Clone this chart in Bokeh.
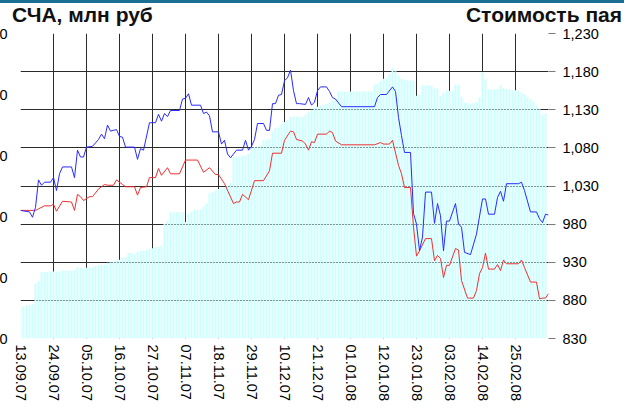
import numpy as np
from bokeh.plotting import figure
from bokeh.layouts import column
from bokeh.models import (Range1d, LinearAxis, FixedTicker, NumeralTickFormatter, Div)
from bokeh.embed import file_html
from bokeh.resources import INLINE

# ---------------- data ----------------
title_left = "СЧА, млн руб"
title_right = "Стоимость пая"

# x axis: days since 13.09.07
tick_days = [0, 11, 22, 33, 44, 55, 66, 77, 88, 99, 110, 121, 132, 143, 154, 165]
tick_labels = ["13.09.07", "24.09.07", "05.10.07", "16.10.07", "27.10.07", "07.11.07",
               "18.11.07", "29.11.07", "10.12.07", "21.12.07", "01.01.08", "12.01.08",
               "23.01.08", "03.02.08", "14.02.08", "25.02.08"]

# СЧА (bars), one value per day from 13.09.07
scha = [51, 52, 54, 55, 56, 90, 94, 108, 109, 109, 110, 110, 110, 110,
        111, 111, 111, 111, 112, 116, 116, 115, 116, 117, 117, 119, 120, 121, 121,
        124, 125, 126, 128, 129, 133, 133, 140, 140, 138, 142, 144, 144, 145,
        147, 148, 150, 150, 152, 188, 193, 207, 207, 207, 207, 207, 191, 205, 208,
        211, 211, 211, 216, 221, 238, 240, 243, 245, 247, 248, 252, 255,
        297, 298, 298, 299, 300, 303, 313, 314, 315, 316, 325, 326, 327, 340,
        345, 346, 352, 355, 358, 363, 364, 364, 363, 363, 367, 371, 375, 379,
        380, 382, 383, 384, 387, 390, 393,
        405, 405, 405, 405, 405, 405, 405, 405, 405, 405, 405, 405,
        416, 418, 422, 426, 427, 434, 444, 438, 430, 426, 424, 423, 423, 422,
        398, 400, 415, 415, 415, 414, 410, 410, 398, 402, 406, 406, 406, 416, 416,
        396, 387, 386, 385, 386, 388, 395, 437, 425, 408, 408, 408, 409, 415,
        410, 409, 408, 407, 407, 406, 403, 400, 396, 392, 388, 381, 376, 366, 368]

# Стоимость пая (blue line)
blue_day = [0, 3, 4, 5, 6, 7, 8, 10, 11, 12, 13, 14, 17, 18, 19, 20, 21, 22, 24, 26,
            27, 28, 29, 30, 32, 33, 34, 35, 38, 39, 40, 41, 43, 45, 46, 47, 48, 49, 50, 53,
            54, 55, 56, 57, 60, 61, 62, 63, 64, 66, 67, 68, 69, 70, 72, 74, 75, 76, 77, 78,
            79, 81, 82, 83, 84, 85, 86, 87, 88, 89, 90, 91, 92, 93, 95, 96, 97, 98, 99, 100,
            102, 103, 104, 105, 107, 118, 119, 120, 122, 124, 125, 126, 127, 128, 130, 131,
            132, 133, 134, 135, 137, 138, 139, 140, 141, 142, 143, 145, 146, 147, 148, 150,
            152, 154, 155, 156, 158, 159, 160, 161, 162, 166, 167, 168, 170, 172, 173, 174,
            175, 176]
blue_val = [998, 996, 989, 1002, 1038, 1031, 1035, 1035, 1041, 1024, 1046, 1055, 1055, 1041,
            1077, 1068, 1068, 1081, 1082, 1091, 1098, 1092, 1110, 1102, 1104, 1095, 1094, 1081,
            1081, 1065, 1079, 1077, 1113, 1113, 1124, 1115, 1125, 1121, 1129, 1129, 1144, 1145,
            1151, 1136, 1136, 1125, 1127, 1122, 1101, 1101, 1085, 1090, 1072, 1067, 1077, 1077,
            1090, 1077, 1082, 1091, 1112, 1112, 1103, 1103, 1138, 1138, 1149, 1150, 1168, 1172,
            1182, 1155, 1138, 1138, 1137, 1146, 1136, 1140, 1155, 1160, 1160, 1154, 1146, 1144,
            1134, 1134, 1146, 1150, 1150, 1160, 1154, 1120, 1096, 1074, 1074, 994, 980, 945, 963,
            1022, 1022, 981, 1007, 991, 945, 984, 984, 1007, 980, 976, 943, 940, 967, 1013, 1013,
            993, 993, 1015, 1023, 1010, 1033, 1033, 1035, 1024, 996, 996, 987, 982, 993, 992]

# benchmark (red line)
red_day = [0, 5, 6, 8, 10, 11, 12, 14, 17, 18, 19, 20, 21, 23, 24, 26, 28, 29, 31, 32,
           34, 35, 38, 39, 40, 42, 43, 45, 46, 47, 49, 50, 53, 55, 59, 61, 63, 65, 66, 68,
           71, 72, 73, 74, 76, 78, 81, 83, 84, 87, 88, 90, 91, 92, 94, 95, 96, 97, 98, 99,
           102, 103, 104, 105, 107, 118, 120, 121, 123, 124, 126, 127, 128, 130, 131, 132,
           133, 135, 137, 138, 139, 140, 141, 142, 143, 145, 146, 147, 149, 151, 152, 153,
           154, 155, 156, 158, 159, 160, 161, 162, 166, 167, 168, 170, 172, 173, 174, 175, 176]
red_val = [998, 998, 1000, 1004, 1004, 1006, 997, 1010, 1009, 998, 1019, 1016, 1011, 1016,
           1016, 1026, 1032, 1031, 1031, 1038, 1032, 1029, 1029, 1018, 1028, 1029, 1041, 1041,
           1053, 1044, 1054, 1046, 1046, 1064, 1064, 1048, 1054, 1045, 1045, 1033, 1007, 1009,
           1009, 1019, 1012, 1037, 1037, 1050, 1073, 1073, 1090, 1102, 1101, 1091, 1089, 1085,
           1077, 1088, 1087, 1098, 1098, 1102, 1100, 1089, 1084, 1084, 1087, 1085, 1085, 1090,
           1057, 1046, 1028, 1028, 976, 938, 945, 961, 961, 932, 939, 935, 910, 926, 926, 948,
           946, 906, 883, 883, 893, 915, 923, 942, 921, 921, 927, 919, 933, 928, 928, 933, 923,
           904, 904, 882, 883, 883, 889]

right_ticks = [830, 880, 930, 980, 1030, 1080, 1130, 1180, 1230]
left_ticks = [0, 100, 200, 300, 400, 500]

# ---------------- figure ----------------
FONT = "Liberation Sans"
FW, FH = 528, 305
TOTAL_W = 654

p = figure(frame_width=FW, frame_height=FH,
           x_range=Range1d(0, 176), y_range=Range1d(830, 1230),
           y_axis_location="right", title=None,
           output_backend="svg", toolbar_location=None,
           min_border_left=50, min_border_right=76, min_border_top=7, min_border_bottom=67)
p.extra_y_ranges = {"scha": Range1d(0, 500)}
p.outline_line_color = None
p.background_fill_color = "white"
p.border_fill_color = "white"

# right axis (share value)
ra = p.yaxis[0]
ra.ticker = FixedTicker(ticks=right_ticks)
ra.formatter = NumeralTickFormatter(format="0,0")
ra.axis_line_color = None
ra.major_tick_in = 0
ra.major_tick_out = 7
ra.major_tick_line_color = "#7a7a7a"
ra.minor_tick_line_color = None
ra.major_label_standoff = 7
ra.major_label_text_font = FONT
ra.major_label_text_font_size = "14.5px"
ra.major_label_text_color = "black"

# left axis (СЧА)
la = LinearAxis(y_range_name="scha", ticker=FixedTicker(ticks=left_ticks))
la.axis_line_color = None
la.major_tick_line_color = None
la.minor_tick_line_color = None
la.major_tick_out = 0
la.major_tick_in = 0
la.major_label_standoff = 13
la.major_label_text_font = FONT
la.major_label_text_font_size = "14.5px"
la.major_label_text_color = "black"
p.add_layout(la, "left")

# x axis
xa = p.xaxis[0]
xa.ticker = FixedTicker(ticks=tick_days)
xa.major_label_overrides = {d: l for d, l in zip(tick_days, tick_labels)}
xa.major_label_orientation = "vertical"
xa.axis_line_color = None
xa.major_tick_line_color = None
xa.minor_tick_line_color = None
xa.major_tick_out = 0
xa.major_tick_in = 0
xa.major_label_standoff = 6
xa.major_label_text_font = FONT
xa.major_label_text_font_size = "14.5px"
xa.major_label_text_color = "black"

# grids
p.xgrid.ticker = FixedTicker(ticks=tick_days)
p.xgrid.grid_line_color = "#2b2b2b"
p.ygrid.grid_line_color = "#2b2b2b"
p.xgrid.grid_line_width = 1
p.ygrid.grid_line_width = 1

# bars
bar_day = np.arange(len(scha))
p.vbar(x=bar_day, top=scha, bottom=0, width=2 / 3, y_range_name="scha",
       fill_color="#ccffff", line_color=None)

# lines
p.line(red_day, red_val, line_color="#ee3030", line_width=1)
p.line(blue_day, blue_val, line_color="#2a2aff", line_width=1)

# header: stripe + two titles
title_css = ("position:absolute;top:3px;white-space:nowrap;font-family:'Liberation Sans';"
             "font-weight:bold;font-size:21px;line-height:23px;color:#111111;")
header_html = (
    f'<div style="position:relative;width:{TOTAL_W}px;height:26px;overflow:visible;">'
    f'<div style="position:absolute;left:0;top:0;width:{TOTAL_W}px;height:3px;background:#1a6f93;"></div>'
    f'<span style="{title_css}left:42px;">{title_left}</span>'
    f'<span style="{title_css}right:2px;">{title_right}</span>'
    '</div>'
)
header = Div(text=header_html, width=TOTAL_W, height=26, margin=0)

root = column(header, p, spacing=0)
root.styles = {"margin-left": "-30px"}

open("out.html", "w").write(file_html(root, INLINE))
